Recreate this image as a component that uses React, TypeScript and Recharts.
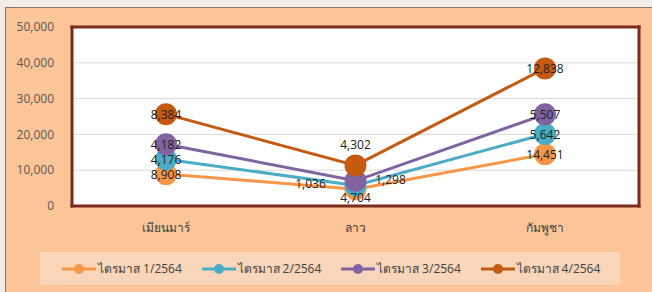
import React from 'react';
import {
  LineChart, Line, XAxis, YAxis, CartesianGrid, Legend, LabelList,
} from 'recharts';

const categories = ['เมียนมาร์', 'ลาว', 'กัมพูชา'];
const seriesNames = ['ไตรมาส 1/2564', 'ไตรมาส 2/2564', 'ไตรมาส 3/2564', 'ไตรมาส 4/2564'];
const q1 = [8908, 4704, 14451];
const q2 = [4176, 1036, 5642];
const q3 = [4182, 1298, 5507];
const q4 = [8384, 4302, 12838];
const yTicks = [0, 10000, 20000, 30000, 40000, 50000];

const quarters = [q1, q2, q3, q4];
const COLORS = ['#f79646', '#4bacc6', '#8064a2', '#c55a11'];
const BORDER = '#7a2b1d';

// stacked totals for the line positions, raw values kept for the labels
const data = categories.map((name, i) => {
  const row: any = { name };
  let sum = 0;
  quarters.forEach((q, k) => {
    sum += q[i];
    row[`v${k}`] = q[i];
    row[`s${k}`] = sum;
  });
  return row;
});

// labels in the middle column sit around their dots instead of on them
const labelShift: Record<string, [number, number]> = {
  '0-1': [0, 8],
  '1-1': [-45, -2],
  '2-1': [35, -1],
  '3-1': [0, -21],
};

const renderLabel = (si: number) => (props: any) => {
  const { x, y, value, index } = props;
  const [dx, dy] = labelShift[`${si}-${index}`] || [0, 0];
  return (
    <text x={x + dx} y={y + dy} textAnchor="middle" dominantBaseline="central" fontSize={12} fill="#222">
      {Number(value).toLocaleString('en-US')}
    </text>
  );
};

const LegendBox = () => (
  <div style={{
    height: 33, background: '#f9d6b9', display: 'flex', alignItems: 'center',
    paddingLeft: 22, boxSizing: 'border-box',
  }}>
    {seriesNames.map((n, i) => (
      <div key={n} style={{ width: 141, display: 'flex', alignItems: 'center', gap: 2 }}>
        <svg width={34} height={12}>
          <line x1={0} y1={6} x2={34} y2={6} stroke={COLORS[i]} strokeWidth={3} />
          <circle cx={17} cy={6} r={5} fill={COLORS[i]} />
        </svg>
        <span style={{ fontSize: 12, color: '#404040' }}>{n}</span>
      </div>
    ))}
  </div>
);

const axisBorder = { stroke: BORDER, strokeWidth: 3, strokeLinecap: 'square' as const };

export default function App() {
  return (
    <div style={{
      position: 'absolute', left: 0, top: 0, width: 652, height: 292,
      background: '#f3ece8', fontFamily: '"Open Sans", "Noto Sans", sans-serif', overflow: 'hidden',
    }}>
      <div style={{
        position: 'absolute', left: 5, top: 7, width: 660, height: 300,
        background: '#fbc598', border: '1.5px solid #8e7264',
      }} />
      <div style={{ position: 'absolute', left: 0, top: 0 }}>
        <LineChart width={652} height={292} data={data} margin={{ top: 26, right: 12, bottom: 7, left: 12 }}>
          <CartesianGrid vertical={false} stroke="#d9d9d9" fill="#fff" />
          <XAxis
            dataKey="name"
            padding={{ left: 94, right: 94 }}
            axisLine={axisBorder}
            tickLine={false}
            tickMargin={11}
            height={46}
            tick={{ fontSize: 12, fill: '#404040' }}
          />
          <XAxis xAxisId="top" orientation="top" dataKey="name" height={1} tick={false} tickLine={false} axisLine={axisBorder} />
          <YAxis
            domain={[0, 50000]}
            ticks={yTicks}
            width={60}
            axisLine={axisBorder}
            tickLine={false}
            tickMargin={12}
            tick={{ fontSize: 12, fill: '#595959' }}
            tickFormatter={(v: number) => v.toLocaleString('en-US')}
          />
          <YAxis yAxisId="right" orientation="right" domain={[0, 50000]} width={1} tick={false} tickLine={false} axisLine={axisBorder} />
          <Legend
            verticalAlign="bottom"
            content={() => <LegendBox />}
            wrapperStyle={{ left: 40, width: 580, bottom: 7 }}
          />
          {seriesNames.map((n, i) => (
            <Line
              key={n}
              type="linear"
              dataKey={`s${i}`}
              name={n}
              stroke={COLORS[i]}
              strokeWidth={3}
              dot={{ r: 11, fill: COLORS[i], stroke: COLORS[i], strokeWidth: 0 }}
              activeDot={false}
              isAnimationActive={false}
            />
          ))}
          {seriesNames.map((n, i) => (
            <Line
              key={`lbl-${n}`}
              type="linear"
              dataKey={`s${i}`}
              stroke="none"
              dot={false}
              activeDot={false}
              legendType="none"
              isAnimationActive={false}
            >
              <LabelList dataKey={`v${i}`} content={renderLabel(i)} />
            </Line>
          ))}
        </LineChart>
      </div>
    </div>
  );
}
